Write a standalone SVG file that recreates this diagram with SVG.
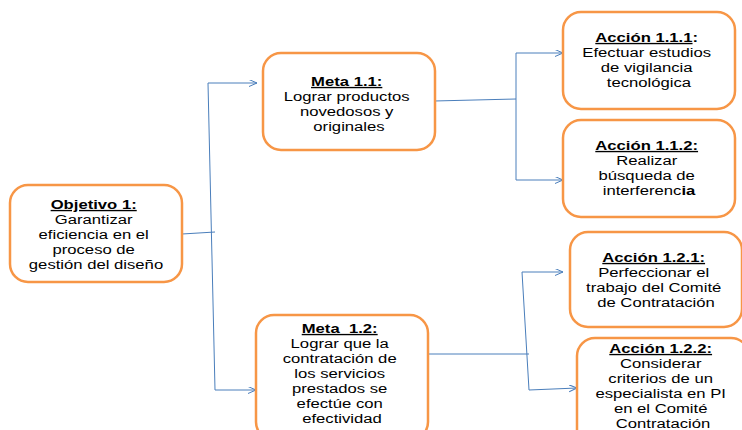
<svg xmlns="http://www.w3.org/2000/svg" width="742" height="430" viewBox="0 0 742 430">
<style>
.box{fill:#fff;stroke:#F79646;stroke-width:2.5}
.ln{fill:none;stroke:#4A7EBB;stroke-width:1}
.ar{fill:none;stroke:#4A7EBB;stroke-width:1;marker-end:url(#arr)}
text{font-family:"Liberation Sans",Arial,sans-serif;font-size:13.5px;fill:#000;text-anchor:middle}
.b{font-weight:bold}
.u{text-decoration:underline}
</style>
<defs>
<marker id="arr" markerWidth="10" markerHeight="9" refX="8" refY="3.5" orient="auto" markerUnits="userSpaceOnUse">
<path d="M0,0 L8,3.5 L0,7" fill="none" stroke="#4A7EBB" stroke-width="1"/>
</marker>
</defs>
<g id="connectors">
<line class="ln" x1="182" y1="234" x2="215" y2="232"/>
<line class="ln" x1="208" y1="83" x2="215" y2="390"/>
<line class="ar" x1="208" y1="83" x2="257" y2="83"/>
<line class="ar" x1="215" y1="390" x2="256" y2="390"/>
<line class="ln" x1="434" y1="101" x2="516" y2="99"/>
<line class="ln" x1="516" y1="53" x2="516" y2="180"/>
<line class="ar" x1="516" y1="53" x2="563" y2="53"/>
<line class="ar" x1="516" y1="180" x2="563" y2="180"/>
<line class="ln" x1="428" y1="354" x2="529" y2="354"/>
<line class="ln" x1="522" y1="272" x2="529" y2="390"/>
<line class="ar" x1="522" y1="272" x2="563" y2="272"/>
<line class="ar" x1="529" y1="390" x2="577" y2="388"/>
</g>
<g id="objetivo1">
<rect class="box" x="10" y="185" width="172" height="97" rx="18"/>
<text transform="translate(96,0) scale(1.235,1)">
<tspan x="0" y="209" class="b u">Objetivo 1:</tspan>
<tspan x="0" y="224">Garantizar</tspan>
<tspan x="0" y="239">eficiencia en el</tspan>
<tspan x="0" y="254">proceso de</tspan>
<tspan x="0" y="269">gestión del diseño</tspan>
</text>
</g>
<g id="meta11">
<rect class="box" x="263" y="53" width="172" height="97" rx="18"/>
<text transform="translate(349,0) scale(1.235,1)">
<tspan x="0" y="86" class="b u">Meta 1.1:</tspan>
<tspan x="0" y="101">Lograr productos</tspan>
<tspan x="0" y="116">novedosos y</tspan>
<tspan x="0" y="131">originales</tspan>
</text>
</g>
<g id="meta12">
<rect class="box" x="256" y="315" width="172" height="125" rx="18"/>
<text transform="translate(342,0) scale(1.235,1)">
<tspan x="0" y="333" class="b u" xml:space="preserve">Meta  1.2:</tspan>
<tspan x="0" y="348">Lograr que la</tspan>
<tspan x="0" y="363">contratación de</tspan>
<tspan x="0" y="378">los servicios</tspan>
<tspan x="0" y="393">prestados se</tspan>
<tspan x="0" y="408">efectúe con</tspan>
<tspan x="0" y="423">efectividad</tspan>
</text>
</g>
<g id="accion111">
<rect class="box" x="563" y="12" width="172" height="97" rx="18"/>
<text transform="translate(649,0) scale(1.235,1)">
<tspan x="0" y="42" class="b"><tspan class="u">Acción 1.1.1</tspan>:</tspan>
<tspan x="0" y="57">Efectuar estudios</tspan>
<tspan x="0" y="72">de vigilancia</tspan>
<tspan x="0" y="87">tecnológica</tspan>
</text>
</g>
<g id="accion112">
<rect class="box" x="563" y="120" width="172" height="97" rx="18"/>
<text transform="translate(649,0) scale(1.235,1)">
<tspan x="0" y="150" class="b u">Acción 1.1.2:</tspan>
<tspan x="0" y="165">Realizar</tspan>
<tspan x="0" y="180">búsqueda de</tspan>
<tspan x="0" y="195">interferenc<tspan class="b">ia</tspan></tspan>
</text>
</g>
<g id="accion121">
<rect class="box" x="570" y="232" width="172" height="95" rx="18"/>
<text transform="translate(656,0) scale(1.235,1)">
<tspan x="0" y="262" class="b u">Acción 1.2.1:</tspan>
<tspan x="0" y="277">Perfeccionar el</tspan>
<tspan x="0" y="292">trabajo del Comité</tspan>
<tspan x="0" y="307">de Contratación</tspan>
</text>
</g>
<g id="accion122">
<rect class="box" x="577" y="338" width="172" height="110" rx="18"/>
<text transform="translate(663,0) scale(1.235,1)">
<tspan x="0" y="353" class="b u">Acción 1.2.2:</tspan>
<tspan x="0" y="368">Considerar</tspan>
<tspan x="0" y="383">criterios de un</tspan>
<tspan x="0" y="398">especialista en PI</tspan>
<tspan x="0" y="413">en el Comité</tspan>
<tspan x="0" y="428">Contratación</tspan>
</text>
</g>
</svg>
